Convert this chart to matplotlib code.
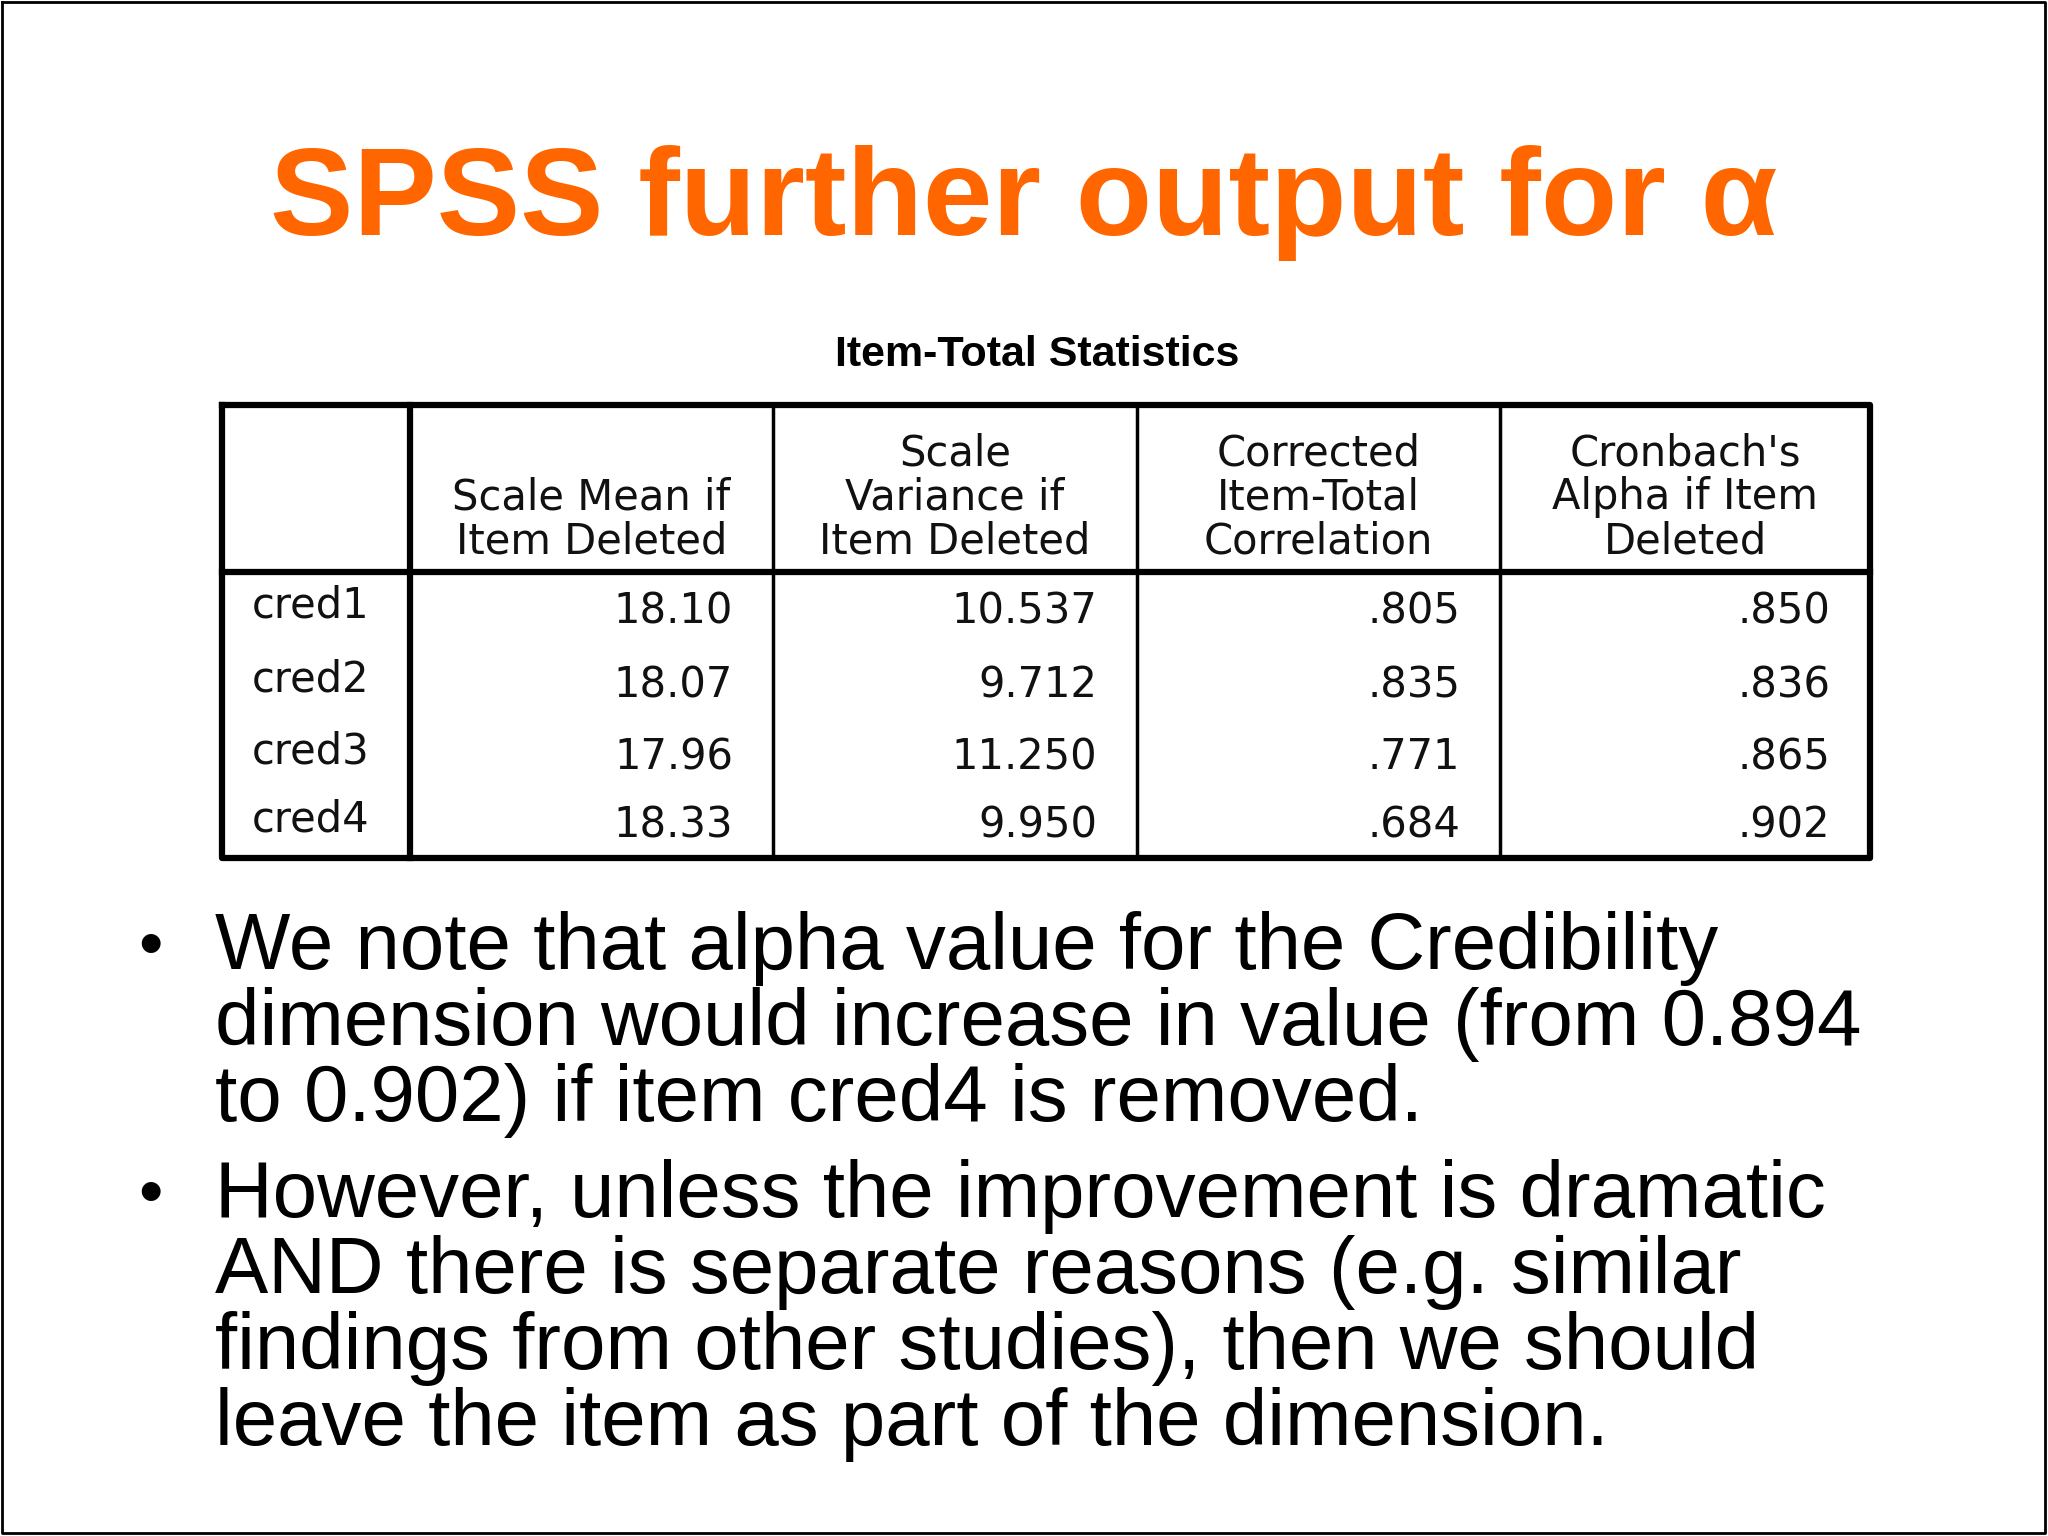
import matplotlib
matplotlib.use("Agg")
import matplotlib.pyplot as plt

title = "SPSS further output for α"
table_title = "Item-Total Statistics"
headers = ["Scale Mean if\nItem Deleted", "Scale\nVariance if\nItem Deleted",
           "Corrected\nItem-Total\nCorrelation", "Cronbach's\nAlpha if Item\nDeleted"]
items = ["cred1", "cred2", "cred3", "cred4"]
scale_mean = ["18.10", "18.07", "17.96", "18.33"]
scale_var = ["10.537", "9.712", "11.250", "9.950"]
corr = [".805", ".835", ".771", ".684"]
alpha = [".850", ".836", ".865", ".902"]
bullets = [
    ["We note that alpha value for the Credibility",
     "dimension would increase in value (from 0.894",
     "to 0.902) if item cred4 is removed."],
    ["However, unless the improvement is dramatic",
     "AND there is separate reasons (e.g. similar",
     "findings from other studies), then we should",
     "leave the item as part of the dimension."],
]

fig = plt.figure(figsize=(20.48, 15.36), dpi=100)
ax = fig.add_axes([0, 0, 1, 1])
ax.set_xlim(0, 2048); ax.set_ylim(1536, 0); ax.axis("off")
ax.plot([2, 2045, 2045, 2, 2], [2, 2, 1533, 1533, 2], color="black", lw=2)

ax.text(1024, 203, title, color="#FF6600", fontsize=90, fontweight="bold",
        ha="center", va="center", family="Liberation Sans")
ax.text(1037, 355, table_title, fontsize=31, fontweight="bold", ha="center", va="center",
        family="Liberation Sans")

x0, x1 = 222, 1870
cols = [x0, 410, 773, 1137, 1500, x1]
y0, yh, y1 = 405, 572, 858
ax.plot([x0, x1, x1, x0, x0], [y0, y0, y1, y1, y0], color="black", lw=4.5)
ax.plot([x0, x1], [yh, yh], color="black", lw=4.5)
ax.plot([410, 410], [y0, y1], color="black", lw=4.5)
for c in cols[2:5]:
    ax.plot([c, c], [y0, y1], color="black", lw=2.5)

fnt = dict(fontsize=30, family="DejaVu Sans", color="#111111")
for i, h in enumerate(headers):
    ax.text((cols[i+1] + cols[i+2]) / 2, 562, h, ha="center", va="bottom",
            linespacing=1.05, **fnt)
rows_y = [612, 685, 757, 825]
for r, y in enumerate(rows_y):
    ax.text(252, y - 6, items[r], ha="left", va="center", **fnt)
    for ci, vals in enumerate([scale_mean, scale_var, corr, alpha]):
        ax.text(cols[ci+2] - 40, y, vals[r], ha="right", va="center", **fnt)

y = 948
for b in bullets:
    ax.text(150, y, "•", fontsize=50, ha="center", va="center", family="Liberation Sans")
    for line in b:
        ax.text(215, y, line, fontsize=57.5, ha="left", va="center", family="Liberation Sans")
        y += 76
    y += 20

fig.savefig("out.png", dpi=100)
